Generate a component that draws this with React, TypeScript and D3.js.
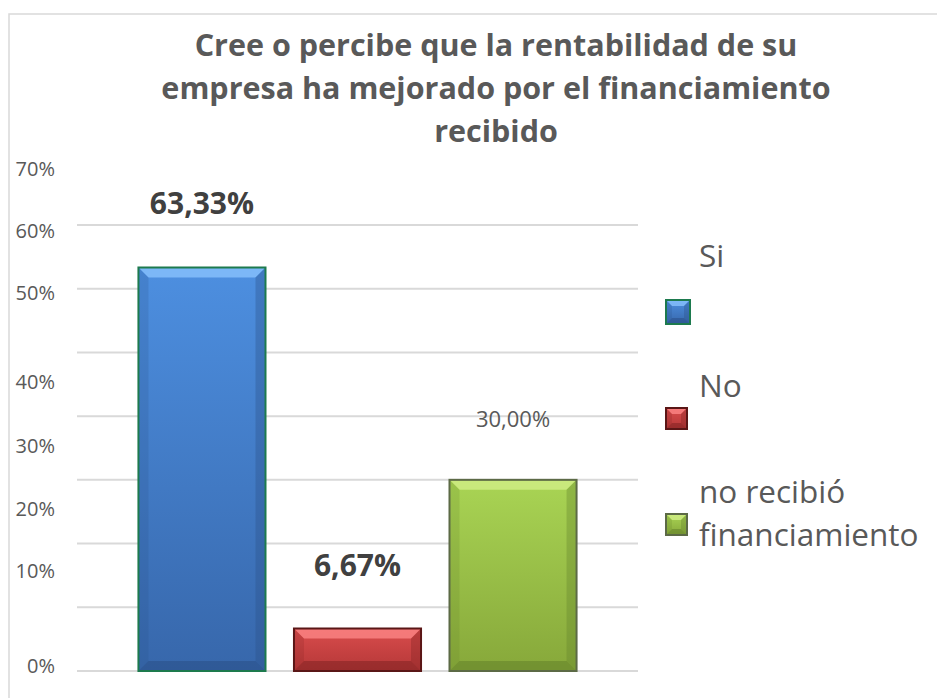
import React from "react";
import * as d3 from "d3";

const categories = ["Si", "No", "no recibió financiamiento"];
const values = [0.6333, 0.0667, 0.3];
const valueLabels = ["63,33%", "6,67%", "30,00%"];
const labelBold = [true, true, false];
const tickValues = [0, 0.1, 0.2, 0.3, 0.4, 0.5, 0.6, 0.7];
const tickLabels = ["0%", "10%", "20%", "30%", "40%", "50%", "60%", "70%"];
const titleLines = [
  "Cree o percibe que la rentabilidad de su",
  "empresa ha mejorado por el financiamiento",
  "recibido",
];
const legendLines = [["Si"], ["No"], ["no recibió", "financiamiento"]];

// layout / style constants
const W = 937;
const H = 698;
const tickLabelNudge = [-6, -37, -35, -34, -35, -60, -58, -57];
const palettes = [
  { top: "#4d8fe0", bottom: "#3767ab", light: "#8cc4ff", dark: "#2a4f86", stroke: "#1d7a4e" },
  { top: "#d94c4c", bottom: "#b53838", light: "#ff8a8a", dark: "#822222", stroke: "#5a1616" },
  { top: "#a9d454", bottom: "#87a83a", light: "#d4f08a", dark: "#62802a", stroke: "#5c6a46" },
];
const legendY = [{ text: [267], sw: 300, ss: 24 }, { text: [397], sw: 408, ss: 21 }, { text: [503, 546], sw: 514, ss: 21 }];

function Bevel({ x, y, w, h, b, i }: { x: number; y: number; w: number; h: number; b: number; i: number }) {
  const p = palettes[i];
  const bb = Math.min(b, h / 2, w / 2);
  const pts = (a: number[][]) => a.map((q) => q.join(",")).join(" ");
  return (
    <g>
      <rect x={x} y={y} width={w} height={h} fill={`url(#g${i})`} />
      <polygon points={pts([[x, y], [x + w, y], [x + w - bb, y + bb], [x + bb, y + bb]])} fill={p.light} opacity={0.75} />
      <polygon points={pts([[x, y + h], [x + w, y + h], [x + w - bb, y + h - bb], [x + bb, y + h - bb]])} fill={p.dark} opacity={0.55} />
      <polygon points={pts([[x, y], [x + bb, y + bb], [x + bb, y + h - bb], [x, y + h]])} fill={p.dark} opacity={0.2} />
      <polygon points={pts([[x + w, y], [x + w - bb, y + bb], [x + w - bb, y + h - bb], [x + w, y + h]])} fill={p.dark} opacity={0.35} />
      <rect x={x} y={y} width={w} height={h} fill="none" stroke={p.stroke} strokeWidth={2} />
    </g>
  );
}

export default function App() {
  const y = d3.scaleLinear().domain([0, 0.7]).range([671, 225]);
  const x = d3
    .scaleBand<string>()
    .domain(categories)
    .range([77, 638])
    .paddingInner(0.183)
    .paddingOuter(0.395);

  return (
    <svg width={W} height={H} style={{ position: "fixed", left: 0, top: 0, background: "#fff" }}>
      <defs>
        {palettes.map((p, i) => (
          <linearGradient key={i} id={`g${i}`} x1="0" y1="0" x2="0" y2="1">
            <stop offset="0" stopColor={p.top} />
            <stop offset="1" stopColor={p.bottom} />
          </linearGradient>
        ))}
      </defs>
      <rect x={9} y={14} width={W + 10} height={H} fill="#fff" stroke="#d9d9d9" strokeWidth={1.5} />
      <g fontFamily="'Open Sans', sans-serif" fill="#595959" fontWeight="bold" fontSize={30.5} textAnchor="middle">
        {titleLines.map((t, i) => (
          <text key={i} x={496} y={56 + i * 43}>
            {t}
          </text>
        ))}
      </g>
      {tickValues.map((v) => (
        <line key={v} x1={77} x2={638} y1={y(v)} y2={y(v)} stroke="#d9d9d9" strokeWidth={2} />
      ))}
      {tickValues.map((v, i) => (
        <text
          key={v}
          x={55}
          y={y(v) + tickLabelNudge[i]}
          dominantBaseline="central"
          textAnchor="end"
          fontFamily="'Open Sans', sans-serif"
          fontSize={20}
          fill="#595959"
        >
          {tickLabels[i]}
        </text>
      ))}
      {categories.map((c, i) => (
        <Bevel key={c} x={x(c)!} y={y(values[i])} w={x.bandwidth()} h={y(0) - y(values[i])} b={10} i={i} />
      ))}
      {categories.map((c, i) => (
        <text
          key={c}
          x={x(c)! + x.bandwidth() / 2}
          y={y(values[i]) - 53}
          textAnchor="middle"
          fontFamily="'Open Sans', sans-serif"
          fontWeight={labelBold[i] ? "bold" : "normal"}
          fontSize={labelBold[i] ? 30 : 22}
          fill={labelBold[i] ? "#404040" : "#595959"}
        >
          {valueLabels[i]}
        </text>
      ))}
      {legendLines.map((lines, i) => (
        <g key={i}>
          <Bevel x={666} y={legendY[i].sw} w={legendY[i].ss} h={legendY[i].ss} b={6} i={i} />
          {lines.map((t, j) => (
            <text key={j} x={699} y={legendY[i].text[j]} fontFamily="'Open Sans', sans-serif" fontSize={31.5} fill="#595959">
              {t}
            </text>
          ))}
        </g>
      ))}
    </svg>
  );
}
